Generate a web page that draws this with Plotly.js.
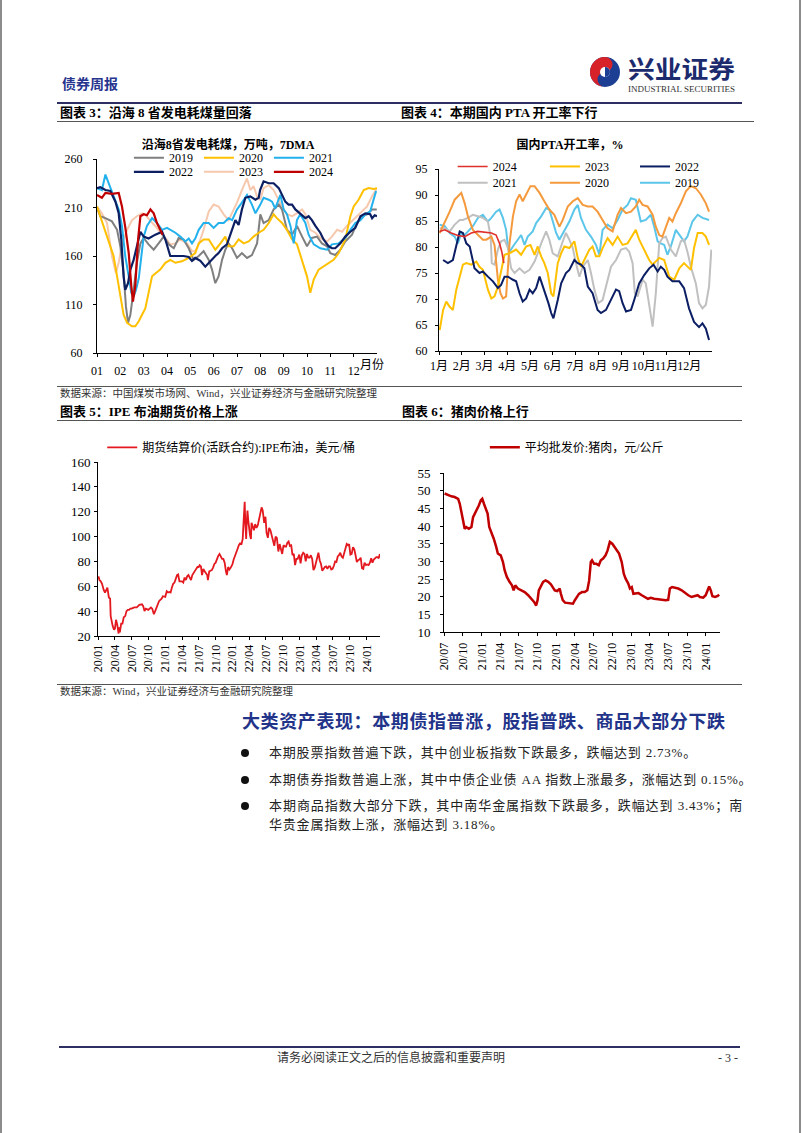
<!DOCTYPE html>
<html><head><meta charset="utf-8">
<script src="https://cdn.plot.ly/plotly-3.0.1.min.js"></script>
<style>
html,body{margin:0;padding:0;background:#fff;}
#page{position:relative;width:802px;height:1133px;overflow:hidden;background:#fff;font-family:"Liberation Serif","Noto Sans CJK SC",serif;color:#000;}
.t{position:absolute;white-space:nowrap;}
.ln{position:absolute;}
.ch{position:absolute;}
.dot{position:absolute;width:8px;height:8px;border-radius:50%;background:#111;}
</style></head>
<body><div id="page">
<div class="ln" style="left:0;top:0;width:2px;height:1133px;background:#8c8c8c"></div>
<div class="ln" style="left:799px;top:0;width:2px;height:1133px;background:#8c8c8c"></div>

<div class="t" style="left:62px;top:76px;font-size:14px;line-height:18px;font-weight:bold;color:#27358f">债券周报</div>
<svg class="ch" style="left:580px;top:50px" width="170" height="48" viewBox="580 50 170 48">
  <circle cx="605" cy="72" r="15" fill="#1c3f94"/>
  <path d="M605,57 A15,15 0 0 0 605,87 A7.5,7.5 0 0 1 605,72 A7.5,7.5 0 0 0 605,57 Z" fill="#d7222a"/>
  <circle cx="605" cy="72" r="5" fill="#fff"/>
  <path d="M605,67 A5,5 0 0 1 605,77" fill="#1c3f94"/>
  <text x="628" y="78" font-size="24" font-weight="bold" fill="#1c2a6e" textLength="107" lengthAdjust="spacingAndGlyphs" font-family="Noto Sans CJK SC">兴业证券</text>
  <text x="628" y="92" font-size="8.5" fill="#333" textLength="107" lengthAdjust="spacingAndGlyphs" font-family="Liberation Serif">INDUSTRIAL SECURITIES</text>
</svg>
<div class="ln" style="left:57px;top:102px;width:685px;height:2px;background:#2d2f62"></div>
<div class="t" style="left:60px;top:104px;font-size:13px;line-height:18px;font-weight:bold">图表 3：沿海 8 省发电耗煤量回落</div>
<div class="t" style="left:401px;top:104px;font-size:13px;line-height:18px;font-weight:bold">图表 4：本期国内 PTA 开工率下行</div>
<div class="ln" style="left:57px;top:121px;width:697px;height:1px;background:#555"></div>

<div id="c1" class="ch" style="left:57px;top:130px;width:340px;height:255px"></div>
<div id="c2" class="ch" style="left:397px;top:130px;width:340px;height:255px"></div>

<div class="ln" style="left:57px;top:386px;width:685px;height:1px;background:#555"></div>
<div class="t" style="left:60px;top:387px;font-size:10.5px;line-height:14px;color:#333">数据来源：中国煤炭市场网、Wind，兴业证券经济与金融研究院整理</div>
<div class="t" style="left:60px;top:403px;font-size:13px;line-height:18px;font-weight:bold">图表 5：IPE 布油期货价格上涨</div>
<div class="t" style="left:402px;top:403px;font-size:13px;line-height:18px;font-weight:bold">图表 6：猪肉价格上行</div>
<div class="ln" style="left:57px;top:420px;width:685px;height:1px;background:#555"></div>

<div id="c3" class="ch" style="left:57px;top:425px;width:340px;height:260px"></div>
<div id="c4" class="ch" style="left:397px;top:425px;width:340px;height:260px"></div>

<div class="ln" style="left:57px;top:684px;width:685px;height:1px;background:#555"></div>
<div class="t" style="left:60px;top:685px;font-size:10.5px;line-height:14px;color:#333">数据来源：Wind，兴业证券经济与金融研究院整理</div>

<div class="t" style="left:242px;top:711px;font-size:18px;line-height:22px;font-weight:bold;color:#22338a;letter-spacing:0.6px">大类资产表现：本期债指普涨，股指普跌、商品大部分下跌</div>
<div class="dot" style="left:241px;top:749px"></div>
<div class="t" style="left:269px;top:744px;font-size:13px;line-height:18px;letter-spacing:0.8px;color:#222">本期股票指数普遍下跌，其中创业板指数下跌最多，跌幅达到 2.73%。</div>
<div class="dot" style="left:241px;top:776px"></div>
<div class="t" style="left:269px;top:771px;font-size:13px;line-height:18px;letter-spacing:0.8px;color:#222">本期债券指数普遍上涨，其中中债企业债 AA 指数上涨最多，涨幅达到 0.15%。</div>
<div class="dot" style="left:241px;top:802px"></div>
<div class="t" style="left:269px;top:797px;width:474px;font-size:13px;line-height:18px;letter-spacing:0.8px;color:#222;text-align:justify;text-align-last:justify">本期商品指数大部分下跌，其中南华金属指数下跌最多，跌幅达到 3.43%；南</div>
<div class="t" style="left:269px;top:816px;font-size:13px;line-height:18px;letter-spacing:0.8px;color:#222">华贵金属指数上涨，涨幅达到 3.18%。</div>

<div class="ln" style="left:59px;top:1046px;width:681px;height:2px;background:#2d2f62"></div>
<div class="t" style="left:277px;top:1050px;font-size:12px;line-height:16px;color:#333">请务必阅读正文之后的信息披露和重要声明</div>
<div class="t" style="left:718px;top:1050px;font-size:12px;line-height:16px;color:#333">- 3 -</div>
</div>

<script>
// ---------- Chart 3 data: coastal 8 provinces coal consumption (x = month position, 0 = Jan 1) ----------
const coalMonthLabels = ['01','02','03','04','05','06','07','08','09','10','11','12'];
const coalX2019 = [0,.14,.36,.64,.86,1.0,1.14,1.24,1.33,1.43,1.57,1.71,1.86,2.0,2.21,2.43,2.64,2.86,3.07,3.29,3.5,3.71,3.93,4.14,4.36,4.57,4.79,4.93,5.07,5.21,5.36,5.5,5.64,5.79,6.0,6.21,6.43,6.64,6.86,7.0,7.14,7.36,7.57,7.79,7.93,8.14,8.36,8.57,8.79,9.0,9.21,9.43,9.64,9.86,10.0,10.21,10.43,10.64,10.93,11.14,11.36,11.57,11.79,11.99];
const coalY2019 = [209.5,201,199,195.7,187,170,142.5,108,91,99.5,125,153,173,178.6,172,166.5,173,180,172,168,178.6,177,168,156,160,165,156,146,132,139,156,166.5,173,168,158,163,158,161,173,203,194,197,208,213,208,187,182,191,180,170,178.6,180,173,170,163,161,166.5,175,182,194,201,203,208,208];
const coalX2020 = [0,.14,.29,.5,.71,.86,1.0,1.14,1.29,1.5,1.64,1.79,1.93,2.07,2.21,2.36,2.5,2.71,2.93,3.14,3.36,3.64,3.93,4.21,4.36,4.57,4.79,4.93,5.07,5.29,5.5,5.64,5.86,6.07,6.29,6.5,6.71,6.93,7.14,7.36,7.57,7.71,7.93,8.14,8.36,8.57,8.79,9.0,9.14,9.29,9.5,9.71,9.93,10.14,10.36,10.64,10.86,11.0,11.21,11.43,11.64,11.86,12.0];
const coalY2020 = [211,201,191,177,160,139,118,99.5,91,87.5,87.5,92.7,99.5,106,122,139,142,146,153,156,153,154.5,158,163,173,177,177,172,166.5,173,180,170,170,177,173,175,180,184,187,194,203,199,194,187,177,172,154.5,139,122,136,146,149.5,153,156,163,177,201,211,218,228,230,229,230];
const coalX2021 = [0,.21,.36,.5,.71,.93,1.07,1.21,1.36,1.47,1.57,1.67,1.79,2.0,2.14,2.36,2.57,2.79,3.0,3.14,3.36,3.57,3.79,3.93,4.07,4.21,4.36,4.57,4.79,5.0,5.21,5.43,5.64,5.79,6.0,6.21,6.43,6.64,6.79,7.0,7.14,7.36,7.5,7.64,7.86,8.0,8.14,8.29,8.43,8.57,8.71,8.93,9.07,9.29,9.57,9.86,10.07,10.36,10.64,10.86,11.07,11.29,11.5,11.71,11.9,11.96];
const coalY2021 = [230,228,244,235,221,208,191,160,139,122,118,125,137,180,191,199,194,187,189,187,184,180,175,178,173,178,187,194,194,189,194,194,199,197,208,215,223,213,204,213,220,218,216,209,223,208,203,191,173,197,203,194,182,172,168,166.5,172,173,178.6,187,194,197,203,206,221.5,227];
const coalX2022 = [0,.14,.36,.57,.79,.93,1.04,1.14,1.21,1.33,1.43,1.57,1.71,1.86,2.0,2.21,2.5,2.79,2.93,3.14,3.43,3.71,3.93,4.07,4.21,4.43,4.64,4.86,5.07,5.21,5.36,5.57,5.79,5.93,6.07,6.21,6.36,6.57,6.79,6.93,6.99,7.14,7.36,7.57,7.79,7.93,8.07,8.21,8.36,8.5,8.71,8.93,9.07,9.21,9.36,9.57,9.71,9.93,10.07,10.21,10.43,10.64,10.86,11.07,11.29,11.5,11.71,11.79,11.9,12.0];
const coalY2022 = [230,231,228,227,216,204,177,139,125,132,146,156,170,185,180,178,182,185,177,160,160,160,159,155,158,155,149,155,160,163,168,172,187,197,192,208,220,221.5,218,220,228,237,235,235,230,223,216,213,213,208,204,199,201,197,191,184,177,170,168,168,173,180,185,189,201,204,203,199,202,201];
const coalX2023 = [0,.21,.43,.64,.81,.93,1.07,1.29,1.5,1.71,1.93,2.07,2.29,2.5,2.71,2.93,3.14,3.36,3.57,3.86,4.07,4.21,4.36,4.57,4.79,5.0,5.21,5.43,5.64,5.86,6.0,6.21,6.43,6.57,6.71,6.86,7.0,7.14,7.36,7.57,7.71,7.93,8.14,8.36,8.57,8.79,8.93,9.14,9.36,9.57,9.86,10.07,10.29,10.5,10.71,10.93,11.14,11.36,11.57,11.79,12.0];
const coalY2023 = [211,204,194,160,142.5,153,173,187,197,201,204,203,196,191,184,178.6,172,173,177,173,165,165,172,187,206,213,211,203,197,208,215,228,240,228,232,221.5,218,230,233,228,221.5,211,203,201,204,208,203,187,184,178.6,175,180,187,185,191,195.7,201,206,211,221.5,230];
const coalX2024 = [0,.21,.36,.64,.93,1.07,1.21,1.36,1.47,1.54,1.64,1.76,1.86,2.0,2.14,2.29,2.43,2.57,2.71,2.81];
const coalY2024 = [223,220,225,224,225,211,190,163,129,113,129,177,201,203,202,208,204,194,187,182];

// ---------- Chart 4 data: domestic PTA operating rate (x = month position) ----------
const ptaMonthLabels = ['1月','2月','3月','4月','5月','6月','7月','8月','9月','10月','11月','12月'];
const ptaX2024 = [.03,.25,.54,.83,1.13,1.42,1.71,2.0,2.30,2.51,2.66,2.76,2.85];
const ptaY2024 = [83.0,83.3,82.7,82.2,82.0,82.7,83.0,82.8,82.7,82.3,80.7,79.1,76.9];
const ptaX2023 = [.03,.18,.32,.47,.61,.76,.91,1.05,1.20,1.42,1.64,1.78,1.93,2.15,2.30,2.44,2.59,2.73,2.88,3.10,3.25,3.39,3.61,3.83,4.02,4.20,4.34,4.49,4.63,4.78,4.93,5.03,5.22,5.37,5.51,5.73,5.95,6.10,6.24,6.39,6.61,6.75,6.90,7.05,7.19,7.41,7.63,7.85,8.07,8.29,8.51,8.65,8.80,9.02,9.24,9.39,9.53,9.68,9.90,10.12,10.34,10.56,10.77,10.92,11.07,11.21,11.37,11.58,11.73,11.87];
const ptaY2023 = [64.0,67.9,69.5,68.5,67.9,71.8,74.3,76.6,76.9,76.6,77.2,76.2,75.6,71.8,70.1,70.5,72.4,75.6,78.5,78.8,79.1,79.5,78.5,80.1,80.4,78.5,80.1,78.2,76.9,75.0,71.1,70.5,76.9,78.8,80.1,79.8,81.1,77.9,76.2,77.5,79.5,80.1,78.2,78.2,79.8,81.7,80.4,82.0,80.4,80.7,82.3,83.3,81.4,79.5,77.5,76.6,77.2,77.9,77.5,74.3,73.7,75.9,76.9,76.2,75.6,79.8,82.7,82.7,82.0,80.4];
const ptaX2022 = [.18,.39,.61,.76,.91,1.05,1.20,1.35,1.56,1.78,1.93,2.15,2.37,2.59,2.73,2.88,3.03,3.25,3.39,3.54,3.68,3.83,3.98,4.12,4.27,4.42,4.52,4.63,4.81,4.93,5.03,5.22,5.37,5.58,5.73,5.95,6.10,6.24,6.39,6.54,6.75,6.97,7.12,7.34,7.56,7.78,7.92,8.07,8.22,8.44,8.58,8.80,9.02,9.24,9.43,9.61,9.75,9.90,10.04,10.26,10.56,10.77,10.99,11.21,11.43,11.58,11.73,11.87];
const ptaY2022 = [77.5,76.9,77.5,80.1,83.0,82.7,80.7,80.1,75.9,75.0,75.3,74.3,73.4,72.1,72.7,74.3,74.3,73.7,73.4,71.1,69.5,70.1,71.8,71.1,72.1,74.3,73.0,71.8,69.2,67.3,66.3,69.8,73.0,75.0,75.6,77.5,76.9,76.6,75.9,72.4,71.1,67.9,67.3,67.9,69.8,71.8,71.5,69.2,67.6,67.9,69.8,73.0,74.6,75.9,76.6,75.3,76.2,75.6,74.3,73.4,73.4,72.1,68.2,65.6,64.6,65.3,64.3,62.1];
const ptaX2021 = [.03,.25,.47,.69,.91,1.05,1.27,1.49,1.71,1.93,2.15,2.27,2.32,2.44,2.59,2.73,2.88,3.03,3.17,3.32,3.54,3.76,3.98,4.20,4.34,4.49,4.71,4.85,5.0,5.22,5.44,5.58,5.73,5.88,6.02,6.17,6.32,6.54,6.68,6.83,7.0,7.19,7.34,7.56,7.78,8.0,8.22,8.36,8.51,8.61,8.73,8.95,9.09,9.24,9.39,9.53,9.68,9.82,9.97,10.19,10.41,10.63,10.77,10.92,11.07,11.29,11.43,11.58,11.73,11.87,11.97];
const ptaY2021 = [83.6,83.6,83.0,84.3,85.2,85.2,85.6,86.2,85.9,85.6,84.9,82.0,76.9,76.6,79.5,81.1,81.4,79.8,75.9,75.0,75.9,75.0,75.6,77.2,78.8,80.7,83.0,81.4,78.8,78.2,81.1,82.7,81.4,79.8,76.9,74.3,76.2,77.5,75.0,71.8,69.2,69.8,72.4,76.2,77.5,79.5,79.8,79.1,76.9,71.1,70.5,73.7,73.0,69.2,64.7,71.1,80.7,81.7,82.0,79.5,78.2,81.1,81.4,79.1,76.2,73.0,69.2,68.2,68.9,72.4,79.5];
const ptaX2020 = [.03,.25,.47,.69,.98,1.13,1.27,1.49,1.71,1.93,2.08,2.30,2.44,2.51,2.59,2.70,2.81,2.95,3.03,3.10,3.25,3.39,3.54,3.68,3.83,4.02,4.20,4.42,4.63,4.85,5.07,5.29,5.44,5.66,5.88,6.10,6.32,6.54,6.75,6.97,7.19,7.41,7.63,7.85,8.0,8.22,8.44,8.65,8.80,8.95,9.17,9.39,9.53,9.68,9.82,9.97,10.12,10.26,10.41,10.63,10.85,11.07,11.29,11.51,11.73,11.87];
const ptaY2020 = [82.7,84.6,86.8,89.1,90.4,88.4,85.9,83.3,82.3,81.4,81.4,82.0,80.4,76.9,73.7,71.1,70.1,70.5,75.6,80.7,85.9,88.8,90.1,88.8,90.1,91.7,91.7,90.4,88.8,87.2,86.2,83.9,85.2,87.8,88.8,89.4,88.1,87.8,87.8,86.8,85.2,83.6,83.0,86.2,87.5,86.5,86.8,87.8,89.1,88.1,87.8,86.2,83.9,82.3,82.0,83.9,85.6,84.9,86.5,88.4,90.7,91.7,91.3,90.1,88.4,86.8];
const ptaX2019 = [.03,.25,.47,.69,.83,.98,1.13,1.27,1.49,1.71,1.93,2.15,2.30,2.51,2.66,2.81,2.95,3.03,3.10,3.25,3.46,3.61,3.76,3.90,4.12,4.27,4.49,4.71,4.85,5.0,5.15,5.29,5.51,5.73,5.95,6.10,6.24,6.46,6.68,6.90,7.05,7.19,7.41,7.63,7.85,8.07,8.29,8.44,8.65,8.87,9.09,9.31,9.46,9.61,9.75,9.90,10.04,10.19,10.41,10.56,10.77,10.92,11.14,11.37,11.58,11.87];
const ptaY2019 = [84.3,84.0,82.7,82.0,80.7,82.7,82.3,83.0,84.0,85.6,86.2,84.9,85.6,86.8,87.2,85.6,83.3,80.1,79.1,80.1,81.4,82.3,80.4,82.0,83.0,84.6,85.9,87.5,87.2,84.9,82.7,81.4,83.3,84.9,87.2,88.1,85.6,83.3,82.0,80.4,78.5,83.3,84.3,83.6,85.2,87.2,88.1,89.4,89.1,84.9,85.2,86.2,83.9,81.1,80.7,80.4,78.5,80.1,83.3,82.3,81.1,82.0,84.9,86.2,85.6,85.2];

// ---------- Chart 5 data: IPE Brent futures settlement, USD/bbl ----------
const brentDates = ['2020-01-02','2020-01-08','2020-01-15','2020-01-22','2020-01-31','2020-02-07','2020-02-14','2020-02-20','2020-02-28','2020-03-06','2020-03-09','2020-03-16','2020-03-20','2020-03-27','2020-04-01','2020-04-07','2020-04-14','2020-04-21','2020-04-24','2020-04-28','2020-05-05','2020-05-12','2020-05-19','2020-05-27','2020-06-03','2020-06-10','2020-06-17','2020-06-24','2020-07-01','2020-07-15','2020-07-29','2020-08-12','2020-08-26','2020-09-02','2020-09-09','2020-09-16','2020-09-23','2020-09-30','2020-10-07','2020-10-14','2020-10-21','2020-10-30','2020-11-06','2020-11-13','2020-11-20','2020-11-27','2020-12-04','2020-12-11','2020-12-18','2020-12-31',
'2021-01-08','2021-01-15','2021-01-22','2021-01-29','2021-02-05','2021-02-12','2021-02-19','2021-02-26','2021-03-05','2021-03-11','2021-03-18','2021-03-25','2021-04-01','2021-04-08','2021-04-15','2021-04-22','2021-04-29','2021-05-06','2021-05-13','2021-05-20','2021-05-27','2021-06-03','2021-06-10','2021-06-17','2021-06-24','2021-07-01','2021-07-06','2021-07-13','2021-07-19','2021-07-26','2021-08-02','2021-08-09','2021-08-16','2021-08-20','2021-08-27','2021-09-03','2021-09-10','2021-09-17','2021-09-24','2021-10-01','2021-10-08','2021-10-15','2021-10-22','2021-10-29','2021-11-05','2021-11-12','2021-11-19','2021-11-26','2021-12-01','2021-12-08','2021-12-15','2021-12-22','2021-12-31',
'2022-01-07','2022-01-14','2022-01-21','2022-01-28','2022-02-04','2022-02-11','2022-02-18','2022-02-25','2022-03-02','2022-03-08','2022-03-11','2022-03-16','2022-03-18','2022-03-23','2022-03-28','2022-04-01','2022-04-06','2022-04-11','2022-04-14','2022-04-21','2022-04-27','2022-05-04','2022-05-11','2022-05-18','2022-05-25','2022-06-01','2022-06-08','2022-06-14','2022-06-22','2022-06-29','2022-07-05','2022-07-12','2022-07-19','2022-07-26','2022-08-02','2022-08-09','2022-08-16','2022-08-23','2022-08-30','2022-09-07','2022-09-14','2022-09-21','2022-09-28','2022-10-05','2022-10-12','2022-10-19','2022-10-26','2022-11-02','2022-11-09','2022-11-16','2022-11-23','2022-11-30','2022-12-07','2022-12-14','2022-12-21','2022-12-30',
'2023-01-06','2023-01-13','2023-01-20','2023-01-27','2023-02-03','2023-02-10','2023-02-17','2023-02-24','2023-03-03','2023-03-10','2023-03-17','2023-03-24','2023-03-31','2023-04-06','2023-04-13','2023-04-20','2023-04-27','2023-05-04','2023-05-11','2023-05-18','2023-05-25','2023-06-01','2023-06-08','2023-06-15','2023-06-22','2023-06-29','2023-07-06','2023-07-13','2023-07-20','2023-07-27','2023-08-03','2023-08-10','2023-08-17','2023-08-24','2023-08-31','2023-09-07','2023-09-14','2023-09-21','2023-09-27','2023-10-04','2023-10-11','2023-10-18','2023-10-25','2023-11-01','2023-11-08','2023-11-15','2023-11-22','2023-11-29','2023-12-06','2023-12-13','2023-12-20','2023-12-28',
'2024-01-04','2024-01-11','2024-01-18','2024-01-25','2024-02-01','2024-02-08','2024-02-15','2024-02-22','2024-02-29','2024-03-06','2024-03-12'];
const brentPrice = [68,65,64,62,57,55,57,59,51,50,36,30,28,25,26,33,29,22,27,23,30,30,35,36,40,41,41,42,42,43,43,45,45.5,44,40,42,41.5,41,42,43,42,37.5,40,43,44.5,48,49,50,52,51.5,
56,55,55.5,55,59,62,63,66,69,69.5,64,64,64,63,67,65,68,69,67,65,69,71,73,74,75.5,75.5,77,76,69,74,72,70,69,65,72,72.5,73,75,78,79,82,84.5,86,84,82,82,79,72,69,75.5,73.5,75,77.5,
81.5,85,88,90,93,94.5,93.5,98,112,128,112,98,108,121,112,104,101,98,111,108,105,110,107,109,114,116,123.5,121,111,116,103,99,107,105,100,96,92.5,100,99,88,94,90,86,93,92,92,95,96,92.5,93,85,86,77,82,82,85.5,
78.5,85,87,86,80,86,83,83,85,82,73,75,79.5,85,87,81,78,72.5,74.5,75.5,76,74,76,76,73.5,74,76.5,80,79.5,84,85,87,84,83,86.5,89.5,94,93,94,85.5,86,91.5,90,85,79.5,81,81.5,83,74.5,74,79,77,
77.5,77,79,82.5,79,81.5,82.5,83.5,83.5,82.5,86];

// ---------- Chart 6 data: average wholesale pork price, CNY/kg ----------
const porkDates = ['2020-07-04','2020-07-20','2020-08-06','2020-08-22','2020-09-08','2020-09-16','2020-09-24','2020-10-02','2020-10-10','2020-10-18','2020-10-30','2020-11-12','2020-11-20','2020-11-29','2020-12-10','2020-12-18','2020-12-28',
'2021-01-04','2021-01-12','2021-01-20','2021-01-30','2021-02-07','2021-02-18','2021-03-01','2021-03-13','2021-03-21','2021-04-04','2021-04-15','2021-04-23','2021-05-04','2021-05-17','2021-05-29','2021-06-06','2021-06-14','2021-06-27','2021-07-14','2021-07-30','2021-08-16','2021-09-01','2021-09-14','2021-09-24','2021-10-01','2021-10-07','2021-10-17','2021-10-28','2021-11-09','2021-11-22','2021-12-05','2021-12-16','2021-12-24',
'2022-01-05','2022-01-17','2022-01-23','2022-02-01','2022-02-12','2022-02-25','2022-03-08','2022-03-23','2022-04-01','2022-04-09','2022-04-21','2022-05-06','2022-05-19','2022-06-01','2022-06-10','2022-06-18','2022-06-24','2022-07-04','2022-07-15','2022-07-27','2022-08-06','2022-08-17','2022-08-29','2022-09-08','2022-09-19','2022-10-01','2022-10-11','2022-10-22','2022-11-03','2022-11-16','2022-11-26','2022-12-05','2022-12-18','2022-12-26',
'2023-01-04','2023-01-12','2023-01-23','2023-02-06','2023-02-22','2023-03-08','2023-03-24','2023-04-07','2023-04-23','2023-05-13','2023-05-29','2023-06-18','2023-07-01','2023-07-09','2023-07-20','2023-08-02','2023-08-19','2023-09-05','2023-09-21','2023-10-07','2023-10-23','2023-11-09','2023-11-22','2023-12-03','2023-12-19','2023-12-31',
'2024-01-10','2024-01-17','2024-01-25','2024-02-02','2024-02-15','2024-02-28','2024-03-06'];
const porkPrice = [49.2,48.7,48.4,48.2,47.7,46.3,44.4,41.6,39.2,39.7,39.2,39.7,42.5,43.5,44.9,45.8,47.3,
47.7,46.3,44.9,43.5,39.7,38.3,36.4,34.1,32.2,31.7,29.8,27.5,25.6,24.2,23.2,21.8,23.2,22.3,21.8,21.3,20.4,19.4,18.5,17.5,19.0,21.8,23.2,24.2,24.6,24.2,23.5,22.7,21.8,
21.6,22.3,20.8,19.0,18.3,18.2,18.0,18.0,19.0,19.9,20.8,21.3,21.3,21.8,24.6,29.8,30.3,29.3,29.3,28.9,30.3,30.8,31.7,33.1,35.5,35.0,34.1,33.1,32.2,29.8,26.5,25.1,23.7,22.3,
22.7,20.8,20.8,21.0,20.4,19.9,19.4,19.7,19.4,19.3,19.1,19.0,19.1,22.3,22.7,22.5,22.3,21.8,21.0,20.4,19.9,20.1,20.4,19.9,19.7,20.4,
22.3,22.9,21.8,20.1,19.9,20.2,20.6];

// ---------- rendering ----------
const FONT = "'Liberation Serif', 'Noto Sans CJK SC', serif";
const base = {family: FONT, size: 12, color: '#000'};
const cfg = {staticPlot: true, displayModeBar: false};
function ax(extra) {
  return Object.assign({showline: true, linecolor: '#000', linewidth: 1, ticks: 'outside', ticklen: 3,
    tickcolor: '#000', showgrid: false, zeroline: false, tickfont: {family: FONT, size: 12, color: '#000'}, fixedrange: true}, extra);
}
function leg(x, y, ew) {
  return {orientation: 'h', x: x, xanchor: 'left', y: y, yanchor: 'middle', entrywidth: ew, entrywidthmode: 'pixels',
    bgcolor: 'rgba(0,0,0,0)', font: {family: FONT, size: 12, color: '#000'}, itemwidth: 30, traceorder: 'normal'};
}
function ln(x, y, name, color, w, legend, rank) {
  return {type: 'scatter', mode: 'lines', x: x, y: y, name: name, line: {color: color, width: w}, legend: legend, legendrank: rank};
}

// Chart: coal
Plotly.newPlot('c1', [
  ln(coalX2023, coalY2023, '2023', '#f6c9ae', 2, 'legend2', 2),
  ln(coalX2019, coalY2019, '2019', '#7f7f7f', 2, 'legend', 1),
  ln(coalX2020, coalY2020, '2020', '#ffc000', 2, 'legend', 2),
  ln(coalX2021, coalY2021, '2021', '#22b1ec', 2, 'legend', 3),
  ln(coalX2022, coalY2022, '2022', '#0d1f63', 2.2, 'legend2', 1),
  ln(coalX2024, coalY2024, '2024', '#c00000', 2.2, 'legend2', 3)
], {
  width: 340, height: 255, margin: {l: 40, r: 20, t: 29.3, b: 31.7, pad: 0, autoexpand: false},
  paper_bgcolor: 'rgba(0,0,0,0)', plot_bgcolor: 'rgba(0,0,0,0)', font: base, showlegend: true,
  title: {text: '沿海8省发电耗煤，万吨，7DMA', x: 0.503, xanchor: 'center', y: 0.941, yanchor: 'middle',
    font: {family: FONT, size: 12, color: '#000', weight: 'bold'}},
  xaxis: ax({range: [0, 12], tickmode: 'array', tickvals: [0,1,2,3,4,5,6,7,8,9,10,11], ticktext: coalMonthLabels, tickangle: 0, ticklabelstandoff: 4}),
  yaxis: ax({range: [60, 260], tickmode: 'linear', tick0: 60, dtick: 50, ticklabelstandoff: 8}),
  legend: leg(0.114, 1.007, 25),
  legend2: leg(0.114, 0.934, 25),
  annotations: [{text: '月份', xref: 'paper', yref: 'paper', x: 0.982, y: -0.062, xanchor: 'center', yanchor: 'middle', showarrow: false,
    font: {family: FONT, size: 12, color: '#000'}}]
}, cfg);

// Chart: PTA (one legend per entry to reproduce the 3x2 legend grid)
Plotly.newPlot('c2', [
  ln(ptaX2019, ptaY2019, '2019', '#5cc6ea', 2, 'legend6', 1),
  ln(ptaX2021, ptaY2021, '2021', '#c0c0c0', 2, 'legend4', 1),
  ln(ptaX2020, ptaY2020, '2020', '#f59a3c', 2, 'legend5', 1),
  ln(ptaX2023, ptaY2023, '2023', '#ffc000', 2, 'legend2', 1),
  ln(ptaX2022, ptaY2022, '2022', '#0b1d63', 2, 'legend3', 1),
  ln(ptaX2024, ptaY2024, '2024', '#e0302c', 1.6, 'legend', 1)
], {
  width: 340, height: 255, margin: {l: 42.3, r: 25.3, t: 39.3, b: 34, pad: 0, autoexpand: false},
  paper_bgcolor: 'rgba(0,0,0,0)', plot_bgcolor: 'rgba(0,0,0,0)', font: base, showlegend: true,
  title: {text: '国内PTA开工率，%', x: 0.509, xanchor: 'center', y: 0.941, yanchor: 'middle',
    font: {family: FONT, size: 12, color: '#000', weight: 'bold'}},
  xaxis: ax({range: [0, 12], tickmode: 'array', tickvals: [0,1,2,3,4,5,6,7,8,9,10,11], ticktext: ptaMonthLabels, tickangle: 0, ticklabelstandoff: 1}),
  yaxis: ax({range: [60, 95], tickmode: 'linear', tick0: 60, dtick: 5, ticklabelstandoff: 5}),
  legend: leg(0.050, 1.014, 0),
  legend2: leg(0.388, 1.014, 0),
  legend3: leg(0.718, 1.014, 0),
  legend4: leg(0.050, 0.925, 0),
  legend5: leg(0.388, 0.925, 0),
  legend6: leg(0.718, 0.925, 0)
}, cfg);

// Chart: Brent
Plotly.newPlot('c3', [
  {type: 'scatter', mode: 'lines', x: brentDates, y: brentPrice, name: '期货结算价(活跃合约):IPE布油，美元/桶', line: {color: '#e3191f', width: 1.8}}
], {
  width: 340, height: 260, margin: {l: 40.7, r: 17, t: 36.7, b: 49, pad: 0, autoexpand: false},
  paper_bgcolor: 'rgba(0,0,0,0)', plot_bgcolor: 'rgba(0,0,0,0)', font: base, showlegend: true,
  xaxis: ax({type: 'date', range: ['2019-12-31', '2024-03-13'], tick0: '2020-01-01', dtick: 'M3', tickformat: '%y/%m', tickangle: -90, ticklabelstandoff: 0}),
  yaxis: ax({range: [20, 160], tickmode: 'linear', tick0: 20, dtick: 20, ticklabelstandoff: 1, tickfont: {family: FONT, size: 13, color: '#000'}}),
  legend: leg(0.015, 1.084, 0)
}, cfg);

// Chart: pork
Plotly.newPlot('c4', [
  {type: 'scatter', mode: 'lines', x: porkDates, y: porkPrice, name: '平均批发价:猪肉，元/公斤', line: {color: '#c00000', width: 2.5}}
], {
  width: 340, height: 260, margin: {l: 47.3, r: 17, t: 47.7, b: 53.3, pad: 0, autoexpand: false},
  paper_bgcolor: 'rgba(0,0,0,0)', plot_bgcolor: 'rgba(0,0,0,0)', font: base, showlegend: true,
  xaxis: ax({type: 'date', range: ['2020-07-01', '2024-03-10'], tick0: '2020-07-01', dtick: 'M3', tickformat: '%y/%m', tickangle: -90, ticklabelstandoff: 2}),
  yaxis: ax({range: [10, 55], tickmode: 'linear', tick0: 10, dtick: 5, ticklabelstandoff: 7, tickfont: {family: FONT, size: 13, color: '#000'}}),
  legend: leg(0.148, 1.162, 0)
}, cfg);
</script>
</body></html>
